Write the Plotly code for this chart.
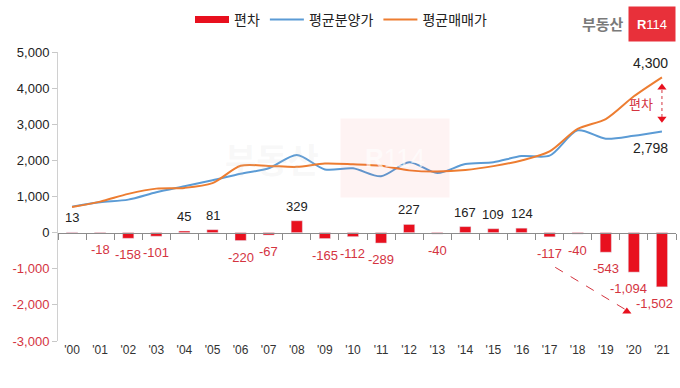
import plotly.graph_objects as go

years = ["'00", "'01", "'02", "'03", "'04", "'05", "'06", "'07", "'08", "'09", "'10",
         "'11", "'12", "'13", "'14", "'15", "'16", "'17", "'18", "'19", "'20", "'21"]
deviation = [13, -18, -158, -101, 45, 81, -220, -67, 329, -165, -112,
             -289, 227, -40, 167, 109, 124, -117, -40, -543, -1094, -1502]
presale_price = [720, 840, 914, 1117, 1283, 1450, 1630, 1780, 2150, 1750, 1780,
                 1560, 1950, 1650, 1900, 1950, 2120, 2130, 2830, 2600, 2680, 2798]
market_price = [707, 858, 1072, 1218, 1238, 1369, 1850, 1847, 1821, 1915, 1892,
                1849, 1723, 1690, 1733, 1841, 1996, 2247, 2870, 3143, 3774, 4300]
ytick_vals = [-3000, -2000, -1000, 0, 1000, 2000, 3000, 4000, 5000]

RED = "#E8101E"
LABEL_RED = "#D4343F"
BLUE = "#5B9BD5"
ORANGE = "#ED7D31"
FONT = "Liberation Sans, Arial, Noto Sans CJK KR"
KFONT = "Noto Sans CJK KR, Liberation Sans"

W, H = 680, 388
ml, mr, mt, mb = 58, 4, 52, 47
pw, ph = W - ml - mr, H - mt - mb


def px(x):
    return (x - ml) / pw


def py(y):
    return 1 + (mt - y) / ph


fig = go.Figure()
# legend proxy for the bars (wide rectangle swatch)
fig.add_trace(go.Scatter(x=[None], y=[None], name="편차", mode="lines",
                         line=dict(color=RED, width=7), xaxis="x3", hoverinfo="skip"))
fig.add_trace(go.Bar(x=years, y=deviation, name="편차", marker_color=RED,
                     width=0.4, xaxis="x2", yaxis="y", showlegend=False))
fig.add_trace(go.Scatter(x=years, y=presale_price, name="평균분양가", mode="lines",
                         line=dict(color=BLUE, width=2, shape="spline", smoothing=0.8)))
fig.add_trace(go.Scatter(x=years, y=market_price, name="평균매매가", mode="lines",
                         line=dict(color=ORANGE, width=2, shape="spline", smoothing=0.8)))

ann = []
for yr, v in zip(years, deviation):
    if v >= 0:
        ann.append(dict(x=yr, y=v, text=f"{v:,}", showarrow=False, yanchor="bottom",
                        yshift=5, font=dict(size=13, color="#222222", family=FONT)))
    else:
        xs = 0
        if v <= -1000:
            xs = -5 if v > -1500 else -7
        ann.append(dict(x=yr, y=v, text=f"{v:,}", showarrow=False, yanchor="top",
                        yshift=-7, xshift=xs, font=dict(size=13, color=LABEL_RED, family=FONT)))

# end value labels
ann.append(dict(x=years[-1], y=market_price[-1], text=f"{market_price[-1]:,}", showarrow=False,
                xanchor="right", yanchor="bottom", xshift=8, yshift=4,
                font=dict(size=14, color="#222222", family=FONT)))
ann.append(dict(x=years[-1], y=presale_price[-1], text=f"{presale_price[-1]:,}", showarrow=False,
                xanchor="right", yanchor="top", xshift=8, yshift=-6,
                font=dict(size=14, color="#222222", family=FONT)))
ann.append(dict(x=20.25, y=3570, xref="x3", yref="y", text="편차", showarrow=False,
                xanchor="center", yanchor="middle",
                font=dict(size=13, color=LABEL_RED, family=KFONT)))

# logo
ann.append(dict(x=px(603), y=py(23), xref="paper", yref="paper", text="<b>부동산</b>",
                showarrow=False, xanchor="center", yanchor="middle",
                font=dict(size=15, color="#7a7a7a", family=KFONT)))
ann.append(dict(x=px(652), y=py(24), xref="paper", yref="paper", text="<b>R</b>114",
                showarrow=False, xanchor="center", yanchor="middle", width=36, height=24,
                bgcolor="#E8303A", borderpad=5, font=dict(size=13, color="white", family=FONT)))
# watermark
ann.append(dict(x=px(272), y=py(158), xref="paper", yref="paper", text="<b>부동산</b>",
                showarrow=False, xanchor="center", yanchor="middle",
                font=dict(size=34, color="rgba(200,200,200,0.14)", family=KFONT)))
ann.append(dict(x=px(395), y=py(158), xref="paper", yref="paper", text="<b>R</b>114",
                showarrow=False, xanchor="center", yanchor="middle",
                bgcolor="rgba(232,48,58,0.06)", borderpad=24,
                font=dict(size=26, color="rgba(255,255,255,0.6)", family=FONT)))

shapes = [
    dict(type="line", xref="x3", yref="y", x0=21, x1=21, y0=3200, y1=4000,
         line=dict(color=LABEL_RED, width=1, dash="dot")),
    dict(type="line", xref="x3", yref="y", x0=17.2, x1=19.7, y0=-960, y1=-2130,
         line=dict(color=LABEL_RED, width=1, dash="dash")),
]
fig.add_trace(go.Scatter(x=[21, 21, 19.75], y=[4020, 3150, -2180], mode="markers",
                         marker=dict(symbol=["triangle-up", "triangle-down", "triangle-up"],
                                     size=8, color=RED), showlegend=False, hoverinfo="skip",
                         xaxis="x3"))

ytext = []
for v in ytick_vals:
    s = f"{v:,}"
    ytext.append(f"<span style='color:{LABEL_RED}'>{s}</span>" if v < 0 else s)

fig.update_layout(
    width=W, height=H,
    margin=dict(l=ml, r=mr, t=mt, b=mb),
    paper_bgcolor="white", plot_bgcolor="white",
    font=dict(family=FONT, size=13, color="#222222"),
    showlegend=True,
    legend=dict(orientation="h", x=px(341), y=py(20),
                xanchor="center", yanchor="middle",
                font=dict(size=14, family=KFONT, color="#222222"), itemwidth=34,
                traceorder="normal"),
    xaxis=dict(type="category", categoryorder="array", categoryarray=years,
               range=[-0.5, 21.5], showline=False, ticks="", showgrid=False,
               tickfont=dict(size=12, color="#333333")),
    xaxis2=dict(type="category", categoryorder="array", categoryarray=years,
                range=[-0.5, 21.5], overlaying="x", anchor="free", position=0.375,
                side="bottom", showline=True, linecolor="#8c8c8c", linewidth=1,
                ticks="outside", ticklen=6, tickcolor="#8c8c8c", tickson="boundaries",
                showticklabels=False, showgrid=False),
    xaxis3=dict(type="linear", range=[-0.5, 21.5], overlaying="x", visible=False),
    yaxis=dict(range=[-3000, 5000], tickvals=ytick_vals, ticktext=ytext,
               showgrid=False, zeroline=False, showline=True, linecolor="#d0d0d0",
               ticks="outside", ticklen=5, tickcolor="#c8c8c8", automargin=False,
               tickfont=dict(size=13, color="#222222")),
    annotations=ann,
    shapes=shapes,
    bargap=0.5,
)
fig.write_html("out.html", config={"displayModeBar": False},
               post_script="document.body.style.margin='0';")
